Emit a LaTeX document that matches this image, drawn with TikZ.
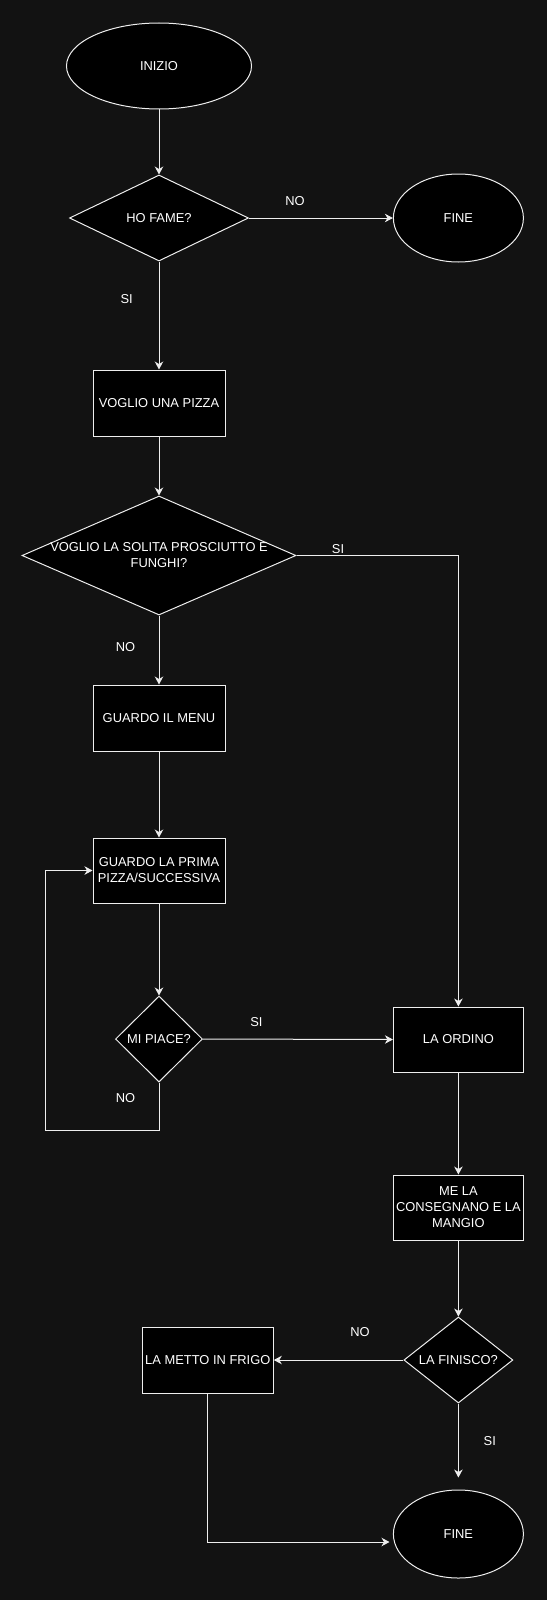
\documentclass[tikz,border=0pt]{standalone}
\usepackage{fontspec}
\setmainfont{Liberation Sans}
\usetikzlibrary{shapes.geometric,arrows.meta}
\definecolor{bgc}{HTML}{121212}
\definecolor{strk}{HTML}{EEEEEE}
\begin{document}
\begin{tikzpicture}[x=1pt,y=-1pt,
  every node/.style={font=\fontsize{12.9}{16}\selectfont, text=white},
  proc/.style={draw=strk, fill=black, line width=1pt, minimum width=132pt, minimum height=66pt, inner sep=0pt, align=center},
  term/.style={draw=strk, fill=black, line width=1pt, ellipse, inner sep=0pt},
  dec/.style={draw=strk, fill=black, line width=1pt, diamond, inner sep=0pt},
  lbl/.style={inner sep=0pt},
  conn/.style={draw=strk, line width=1pt, -{Stealth[length=8pt,width=8.5pt,inset=2.5pt]}},
]
\fill[bgc] (0,0) rectangle (547,1600);
\useasboundingbox (0,0) rectangle (547,1600);

\node[term, minimum width=185pt, minimum height=86pt] (inizio) at (159,66) {INIZIO};
\node[dec, minimum width=179pt, minimum height=86pt, label={center:HO FAME?}] (hofame) at (159,218) {};
\node[term, minimum width=130pt, minimum height=88pt] (fine1) at (458.4,218) {FINE};
\node[proc] (voglio) at (159,403) {VOGLIO UNA PIZZA};
\node[dec, minimum width=274pt, minimum height=119pt, label={[align=center]center:VOGLIO LA SOLITA PROSCIUTTO E\\FUNGHI?}] (solita) at (159,555.5) {};
\node[proc] (menu) at (159,718) {GUARDO IL MENU};
\node[proc, minimum height=65pt] (prima) at (159,870.5) {GUARDO LA PRIMA\\PIZZA/SUCCESSIVA};
\node[dec, minimum width=87pt, minimum height=86pt, label={center:MI PIACE?}] (piace) at (159,1039) {};
\node[proc, minimum width=130pt, minimum height=65pt] (ordino) at (458.4,1039.5) {LA ORDINO};
\node[proc, minimum width=130pt, minimum height=65pt] (consegna) at (458.4,1207.5) {ME LA\\CONSEGNANO E LA\\MANGIO};
\node[dec, minimum width=109pt, minimum height=86pt, label={center:LA FINISCO?}] (finisco) at (458.4,1360) {};
\node[proc, minimum width=131pt] (frigo) at (207.8,1360) {LA METTO IN FRIGO};
\node[term, minimum width=130pt, minimum height=88pt] (fine2) at (458.4,1534) {FINE};

\node[lbl] (l1) at (295,201) {NO};
\node[lbl] (l2) at (126.6,299) {SI};
\node[lbl] (l3) at (338,549) {SI};
\node[lbl] (l4) at (125.6,647) {NO};
\node[lbl] (l5) at (256.4,1022) {SI};
\node[lbl] (l6) at (125.6,1098) {NO};
\node[lbl] (l7) at (360,1332) {NO};
\node[lbl] (l8) at (489.8,1441) {SI};

\coordinate (loop) at (45,1130);
\coordinate (fin2in) at (393.5,1542);

\draw[conn] (inizio) -- (hofame);
\draw[conn] (hofame.east) -- (fine1.west);
\draw[conn] (hofame.south) -- (voglio.north);
\draw[conn] (voglio.south) -- (solita.north);
\draw[conn] (solita.east) -| (ordino.north);
\draw[conn] (solita.south) -- (menu.north);
\draw[conn] (menu.south) -- (prima.north);
\draw[conn] (prima.south) -- (piace.north);
\draw[conn] (piace.east) -- (ordino.west);
\draw[conn] (piace.south) |- (loop) |- (prima.west);
\draw[conn] (ordino.south) -- (consegna.north);
\draw[conn] (consegna.south) -- (finisco.north);
\draw[conn] (finisco.west) -- (frigo.east);
\draw[conn, shorten >=12pt] (finisco.south) -- (fine2.north);
\draw[conn, shorten >=4pt] (frigo.south) |- (fin2in);
\end{tikzpicture}
\end{document}
